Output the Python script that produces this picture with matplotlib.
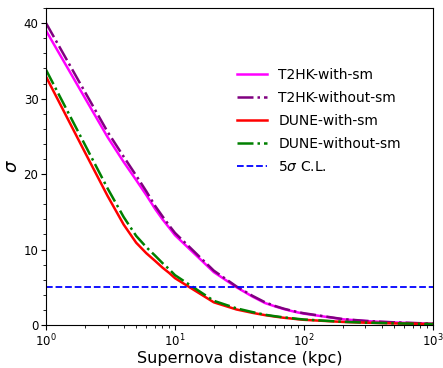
import matplotlib
matplotlib.use("Agg")
import matplotlib.pyplot as plt
import numpy as np
from matplotlib.ticker import MultipleLocator

distance = [1, 2, 3, 4, 5, 6, 7, 8, 9, 10, 20, 30, 40, 50, 60, 70, 80, 90, 100,
            200, 300, 400, 500, 600, 700, 800, 900, 1000]
t2hk_with = [39.0, 30.1, 24.9, 21.6, 19.2, 17.2, 15.4, 14.0, 12.9, 11.9, 7.0, 5.0,
             3.75, 2.9, 2.45, 2.1, 1.85, 1.65, 1.5, 0.75, 0.52, 0.4, 0.33, 0.28,
             0.24, 0.21, 0.19, 0.17]
t2hk_without = [40.0, 30.9, 25.6, 22.3, 19.8, 17.7, 15.8, 14.4, 13.2, 12.2, 7.2, 5.1,
                3.85, 3.0, 2.5, 2.15, 1.9, 1.7, 1.55, 0.78, 0.54, 0.42, 0.35, 0.3,
                0.26, 0.23, 0.2, 0.18]
dune_with = [32.9, 22.9, 17.1, 13.3, 10.9, 9.5, 8.5, 7.6, 6.9, 6.2, 3.0, 2.05,
             1.6, 1.3, 1.1, 0.95, 0.85, 0.75, 0.68, 0.4, 0.3, 0.25, 0.2, 0.18,
             0.16, 0.14, 0.13, 0.12]
dune_without = [33.8, 23.9, 18.1, 14.3, 11.8, 10.3, 9.2, 8.2, 7.4, 6.6, 3.2, 2.2,
                1.7, 1.35, 1.15, 1.0, 0.9, 0.8, 0.72, 0.42, 0.31, 0.26, 0.21, 0.19,
                0.17, 0.15, 0.14, 0.13]
cl_level = 5

fig = plt.figure(figsize=(4.43, 3.68), dpi=100)
ax = fig.add_axes([0.104, 0.117, 0.873, 0.861])

ax.plot(distance, t2hk_with, color='#ff00ff', lw=1.8, label='T2HK-with-sm')
ax.plot(distance, t2hk_without, color='purple', lw=1.8, ls='-.', label='T2HK-without-sm')
ax.plot(distance, dune_with, color='red', lw=1.8, label='DUNE-with-sm')
ax.plot(distance, dune_without, color='green', lw=1.8, ls='-.', label='DUNE-without-sm')
ax.axhline(cl_level, color='blue', lw=1.3, ls='--', label=r'5$\sigma$ C.L.')

ax.set_xscale('log')
ax.set_xlim(1, 1000)
ax.set_ylim(0, 42)
ax.yaxis.set_major_locator(MultipleLocator(10))
ax.yaxis.set_minor_locator(MultipleLocator(2))
ax.tick_params(which='major', labelsize=8.5, length=3.5, pad=2)
ax.tick_params(which='minor', length=2)
ax.set_xlabel('Supernova distance (kpc)', fontsize=11.5, labelpad=1)
ax.set_ylabel(r'$\sigma$', fontsize=13, labelpad=2)

ax.legend(loc='upper right', bbox_to_anchor=(0.95, 0.85), frameon=False,
          fontsize=10, handlelength=2.2, labelspacing=0.65)

fig.savefig('out.png', dpi=100)
